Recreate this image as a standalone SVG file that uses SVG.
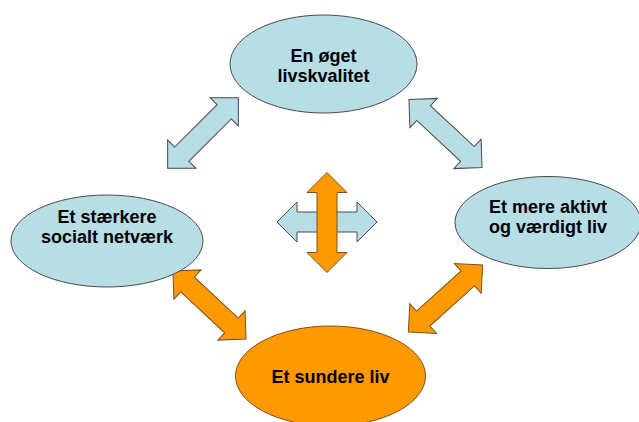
<svg xmlns="http://www.w3.org/2000/svg" xmlns:xlink="http://www.w3.org/1999/xlink" width="639" height="422" viewBox="0 0 639 422">
<style>
.blue{fill:#B7DDE5;stroke:#4a4a4a;stroke-width:1}
.orange{fill:#FF9900;stroke:#7a5020;stroke-width:1}
.t{font-family:"Liberation Sans",Arial,sans-serif;font-weight:bold;font-size:18px;fill:#000;text-anchor:middle}
</style>
<defs>
<path id="dbl" d="M -50 0 L -30 -20 L -30 -10 L 30 -10 L 30 -20 L 50 0 L 30 20 L 30 10 L -30 10 L -30 20 Z"/>
</defs>
<rect width="639" height="422" fill="#fff"/>
<g id="connectors">
<use xlink:href="#dbl" class="blue" transform="translate(203,133) rotate(-45)"/>
<use xlink:href="#dbl" class="blue" transform="translate(445.5,133.5) rotate(43)"/>
<use xlink:href="#dbl" class="orange" transform="translate(209.5,305) rotate(43)"/>
<use xlink:href="#dbl" class="orange" transform="translate(445.5,298.5) rotate(-42)"/>
<use xlink:href="#dbl" class="blue" transform="translate(327,222)"/>
<use xlink:href="#dbl" class="orange" transform="translate(327,222.5) rotate(90)"/>
</g>
<g id="top">
<ellipse class="blue" cx="323.5" cy="64" rx="93.5" ry="49"/>
<text class="t" x="323.5" y="62">En øget</text>
<text class="t" x="323.5" y="82">livskvalitet</text>
</g>
<g id="left">
<ellipse class="blue" cx="107" cy="241" rx="96" ry="46"/>
<text class="t" x="107" y="222.5">Et stærkere</text>
<text class="t" x="107" y="242.5">socialt netværk</text>
</g>
<g id="right">
<ellipse class="blue" cx="548" cy="222.5" rx="93" ry="46"/>
<text class="t" x="548" y="213">Et mere aktivt</text>
<text class="t" x="548" y="233">og værdigt liv</text>
</g>
<g id="bottom">
<ellipse class="orange" cx="330.5" cy="376" rx="95" ry="50"/>
<text class="t" x="330.5" y="383">Et sundere liv</text>
</g>
</svg>
